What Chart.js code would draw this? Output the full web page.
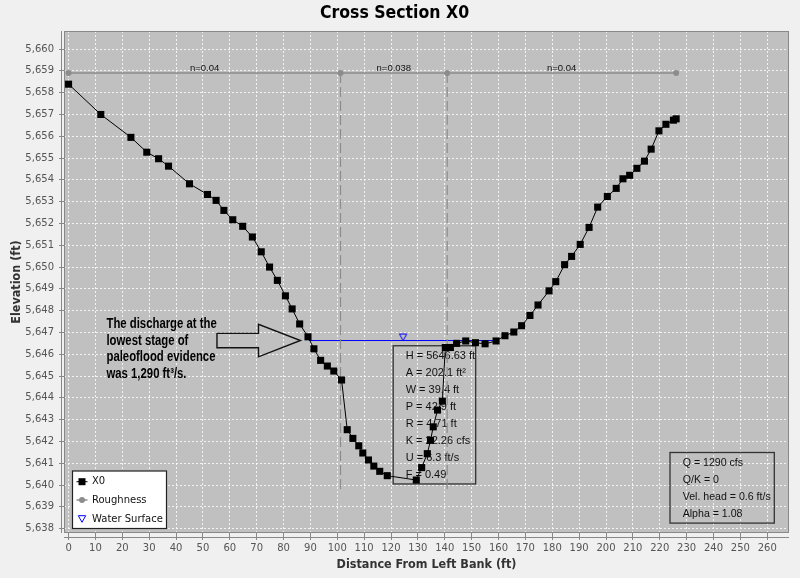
<!DOCTYPE html>
<html>
<head>
<meta charset="utf-8">
<title>Cross Section X0</title>
<script src="https://cdn.jsdelivr.net/npm/chart.js@4.4.1/dist/chart.umd.min.js"></script>
<style>
  html, body { margin: 0; padding: 0; background: #f0f0f0; }
  canvas { display: block; }
</style>
</head>
<body>
<canvas id="xs" width="800" height="578"></canvas>
<script>
// Ground survey: station from left bank (ft) and elevation (ft)
const stations = [
    0, 12.0, 23.2, 29.1, 33.5, 37.2, 45.0, 51.7, 54.9, 57.8,
    61.1, 64.8, 68.4, 71.7, 74.8, 77.7, 80.7, 83.2, 86.0, 89.1,
    91.3, 93.8, 96.3, 98.7, 101.6, 103.7, 105.8, 108.0, 109.5, 111.6,
    113.6, 115.8, 118.6, 129.4, 131.4, 133.5, 134.7, 135.7, 137.3, 139.1,
    140.2, 142.1, 144.4, 147.8, 151.4, 155.0, 159.1, 162.4, 165.7, 168.6,
    171.7, 174.7, 178.8, 181.3, 184.6, 187.2, 190.4, 193.7, 196.9, 200.5,
    203.8, 206.3, 208.8, 211.5, 214.3, 216.8, 219.7, 222.3, 225.1, 226.1
];
const elevations = [
    5658.39, 5657.00, 5655.95, 5655.27, 5654.97, 5654.63, 5653.82, 5653.33, 5653.06, 5652.60,
    5652.17, 5651.87, 5651.38, 5650.70, 5650.00, 5649.39, 5648.68, 5648.08, 5647.39, 5646.80,
    5646.25, 5645.72, 5645.46, 5645.23, 5644.82, 5642.54, 5642.14, 5641.80, 5641.47, 5641.15,
    5640.87, 5640.63, 5640.43, 5640.23, 5640.80, 5641.44, 5642.05, 5642.67, 5643.44, 5643.85,
    5646.31, 5646.31, 5646.50, 5646.61, 5646.53, 5646.48, 5646.61, 5646.85, 5647.02, 5647.31,
    5647.78, 5648.26, 5648.91, 5649.33, 5650.11, 5650.49, 5651.04, 5651.82, 5652.75, 5653.24,
    5653.61, 5654.05, 5654.21, 5654.53, 5654.86, 5655.41, 5656.25, 5656.55, 5656.74, 5656.80
];

// Roughness subdivisions
const roughStations = [0, 101.2, 140.9, 226.1];
const roughValues = ['0.04', '0.038', '0.04'];
const roughElev = 5658.9;
const dividerBottom = 5639.7;

// Water surface
const wsStations = [89.5, 159.3];
const wsMarkerStation = 124.5;
const wsElev = 5646.63;

// Axis ticks
const xTickValues = [0, 10, 20, 30, 40, 50, 60, 70, 80, 90, 100, 110, 120, 130,
    140, 150, 160, 170, 180, 190, 200, 210, 220, 230, 240, 250, 260];
const yTickValues = [5638, 5639, 5640, 5641, 5642, 5643, 5644, 5645, 5646, 5647, 5648,
    5649, 5650, 5651, 5652, 5653, 5654, 5655, 5656, 5657, 5658, 5659, 5660];

// Text blocks
const statsLines = ['H = 5646.63 ft', 'A = 202.1 ft\u00b2', 'W = 39.4 ft', 'P = 42.9 ft',
    'R = 4.71 ft', 'K = 22.26 cfs', 'U = 6.3 ft/s', 'F = 0.49'];
const summaryLines = ['Q = 1290 cfs', 'Q/K = 0', 'Vel. head = 0.6 ft/s', 'Alpha = 1.08'];
const noteLines = ['The discharge at the', 'lowest stage of', 'paleoflood evidence',
    'was 1,290 ft\u00b3/s.'];

const SANS = '"DejaVu Sans", sans-serif';
const COND = '"DejaVu Sans Condensed", "DejaVu Sans", sans-serif';
const ARIAL = '"Liberation Sans", Arial, sans-serif';
const GREY = '#8c8c8c';

// open down-pointing triangle whose tip sits on the point
function makeWsMarker() {
    const c = document.createElement('canvas');
    c.width = 10;
    c.height = 16;
    const g = c.getContext('2d');
    g.strokeStyle = '#0000ff';
    g.lineWidth = 1;
    g.beginPath();
    g.moveTo(1.3, 1.5);
    g.lineTo(8.7, 1.5);
    g.lineTo(5, 8);
    g.closePath();
    g.stroke();
    return c;
}

function drawBox(ctx, x, y, w, h, color, width, fill) {
    if (fill) {
        ctx.fillStyle = fill;
        ctx.fillRect(x, y, w, h);
    }
    ctx.strokeStyle = color;
    ctx.lineWidth = width;
    ctx.strokeRect(x, y, w, h);
}

const decorations = {
    id: 'decorations',
    beforeDraw(chart) {
        const { ctx, chartArea: a } = chart;
        ctx.save();
        ctx.fillStyle = '#f0f0f0';
        ctx.fillRect(0, 0, chart.width, chart.height);
        ctx.fillStyle = '#c0c0c0';
        ctx.fillRect(a.left, a.top, a.right - a.left, a.bottom - a.top);
        ctx.restore();
    },
    beforeDatasetsDraw(chart) {
        const { ctx, scales: { x, y } } = chart;
        ctx.save();

        // roughness labels above each subsection
        ctx.font = '9.5px ' + ARIAL;
        ctx.fillStyle = '#111';
        ctx.textAlign = 'center';
        ctx.textBaseline = 'bottom';
        const ry = y.getPixelForValue(roughElev);
        for (let i = 0; i < roughValues.length; i++) {
            const mid = (roughStations[i] + roughStations[i + 1]) / 2;
            ctx.fillText('n=' + roughValues[i], x.getPixelForValue(mid), ry + 0.5);
        }

        // hydraulic properties box (data line runs over it)
        const bx0 = x.getPixelForValue(120.8), bx1 = x.getPixelForValue(151.5);
        const by0 = y.getPixelForValue(5646.39), by1 = y.getPixelForValue(5640.05);
        drawBox(ctx, bx0, by0, bx1 - bx0, by1 - by0, '#333', 1.3);
        ctx.font = '11px ' + ARIAL;
        ctx.fillStyle = '#111';
        ctx.textAlign = 'left';
        ctx.textBaseline = 'middle';
        statsLines.forEach((t, i) => ctx.fillText(t, bx0 + 12.5, by0 + 10.5 + i * 17));

        // block arrow pointing at the lowest paleostage
        const tx = x.getPixelForValue(86.3), ty = y.getPixelForValue(wsElev);
        ctx.beginPath();
        ctx.moveTo(tx - 83.5, ty - 7.2);
        ctx.lineTo(tx - 42, ty - 7.2);
        ctx.lineTo(tx - 42, ty - 16.3);
        ctx.lineTo(tx, ty);
        ctx.lineTo(tx - 42, ty + 16.3);
        ctx.lineTo(tx - 42, ty + 7.2);
        ctx.lineTo(tx - 83.5, ty + 7.2);
        ctx.closePath();
        ctx.strokeStyle = '#111';
        ctx.lineWidth = 1.4;
        ctx.stroke();

        // note text, squeezed to match the narrow bold face of the original
        ctx.font = 'bold 14px ' + ARIAL;
        ctx.fillStyle = '#000';
        noteLines.forEach((t, i) => {
            ctx.save();
            ctx.translate(tx - 194, ty - 16.5 + i * 16.7);
            ctx.scale(0.81, 1);
            ctx.fillText(t, 0, 0);
            ctx.restore();
        });
        ctx.restore();
    },
    afterDraw(chart) {
        const { ctx, chartArea: a } = chart;
        ctx.save();

        // plot frame and offset axis lines
        ctx.strokeStyle = '#888';
        ctx.lineWidth = 1;
        ctx.strokeRect(a.left + 0.5, a.top + 0.5, a.right - a.left - 1, a.bottom - a.top - 1);
        ctx.beginPath();
        ctx.moveTo(a.left, a.bottom + 4.5);
        ctx.lineTo(a.right, a.bottom + 4.5);
        ctx.moveTo(a.left - 2.5, a.top);
        ctx.lineTo(a.left - 2.5, a.bottom);
        ctx.stroke();

        // legend
        const lx = a.left + 8.5, ly = a.bottom - 62;
        drawBox(ctx, lx, ly, 94, 57.5, '#222', 1.2, '#fff');
        ctx.font = '10px ' + SANS;
        ctx.textAlign = 'left';
        ctx.textBaseline = 'middle';
        const rows = [ly + 10.7, ly + 29, ly + 48];
        const ix = lx + 9.5;
        ctx.lineWidth = 1;
        ctx.strokeStyle = '#000';
        ctx.beginPath();
        ctx.moveTo(lx + 4, rows[0]);
        ctx.lineTo(lx + 15, rows[0]);
        ctx.stroke();
        ctx.fillStyle = '#000';
        ctx.fillRect(ix - 3.5, rows[0] - 3.5, 7, 7);
        ctx.strokeStyle = GREY;
        ctx.lineWidth = 1.5;
        ctx.beginPath();
        ctx.moveTo(lx + 4, rows[1]);
        ctx.lineTo(lx + 15, rows[1]);
        ctx.stroke();
        ctx.fillStyle = GREY;
        ctx.beginPath();
        ctx.arc(ix, rows[1], 3, 0, Math.PI * 2);
        ctx.fill();
        ctx.strokeStyle = '#0000ff';
        ctx.lineWidth = 1;
        ctx.beginPath();
        ctx.moveTo(ix - 3.7, rows[2] - 3.3);
        ctx.lineTo(ix + 3.7, rows[2] - 3.3);
        ctx.lineTo(ix, rows[2] + 3.3);
        ctx.closePath();
        ctx.stroke();
        ctx.fillStyle = '#111';
        ['X0', 'Roughness', 'Water Surface'].forEach((t, i) => ctx.fillText(t, lx + 19.5, rows[i]));

        // discharge summary box
        const sx = a.right - 119, sy = a.bottom - 80.5;
        drawBox(ctx, sx, sy, 104.3, 70.6, '#333', 1.3);
        ctx.font = '10.6px ' + ARIAL;
        ctx.fillStyle = '#111';
        summaryLines.forEach((t, i) => ctx.fillText(t, sx + 12.7, sy + 10.8 + i * 17));
        ctx.restore();
    }
};

const gridOpts = {
    color: 'rgba(255,255,255,0.8)',
    lineWidth: 1,
    tickColor: '#888',
    tickBorderDash: []
};

new Chart(document.getElementById('xs'), {
    type: 'scatter',
    data: {
        datasets: [{
            label: 'X0',
            data: stations.map((s, i) => ({ x: s, y: elevations[i] })),
            showLine: true,
            borderColor: '#000',
            borderWidth: 1,
            pointStyle: 'rect',
            pointRadius: 5,
            pointBackgroundColor: '#000',
            pointBorderWidth: 0
        }, {
            label: 'Roughness',
            data: roughStations.map(s => ({ x: s, y: roughElev })),
            showLine: true,
            borderColor: GREY,
            borderWidth: 1.5,
            pointStyle: 'circle',
            pointRadius: 3,
            pointBackgroundColor: GREY,
            pointBorderWidth: 0
        }, ...roughStations.slice(1, -1).map(s => ({
            label: 'divider',
            data: [{ x: s, y: roughElev }, { x: s, y: dividerBottom }],
            showLine: true,
            borderColor: GREY,
            borderWidth: 1.2,
            borderDash: [10, 4],
            pointRadius: 0
        })), {
            label: 'Water Surface line',
            data: wsStations.map(s => ({ x: s, y: wsElev })),
            showLine: true,
            borderColor: '#0000ff',
            borderWidth: 1,
            pointRadius: 0
        }, {
            label: 'Water Surface',
            data: [{ x: wsMarkerStation, y: wsElev }],
            pointStyle: makeWsMarker(),
            pointRadius: 5
        }]
    },
    options: {
        responsive: false,
        animation: false,
        events: [],
        layout: { padding: { left: 0, right: 11, top: 0, bottom: 0 } },
        plugins: {
            legend: { display: false },
            tooltip: { enabled: false },
            title: {
                display: true,
                text: 'Cross Section X0',
                color: '#000',
                font: { family: COND, size: 17.5, weight: 'bold' },
                padding: { top: 2.5, bottom: 7.5 }
            }
        },
        scales: {
            x: {
                type: 'linear',
                min: -1.7,
                max: 268.1,
                afterBuildTicks: s => { s.ticks = xTickValues.map(v => ({ value: v })); },
                afterFit: s => { s.height = 45; },
                ticks: {
                    font: { family: SANS, size: 10 },
                    color: '#555',
                    padding: 2.5,
                    maxRotation: 0,
                    autoSkip: false
                },
                grid: { ...gridOpts, tickLength: 7 },
                border: { display: false, dash: [2, 2] },
                title: {
                    display: true,
                    text: 'Distance From Left Bank (ft)',
                    color: '#333',
                    font: { family: COND, size: 12.5, weight: 'bold' },
                    padding: { top: 2, bottom: 5.5 }
                }
            },
            y: {
                type: 'linear',
                min: 5637.8,
                max: 5660.83,
                afterBuildTicks: s => { s.ticks = yTickValues.map(v => ({ value: v })); },
                afterFit: s => { s.width = 64; },
                ticks: {
                    font: { family: SANS, size: 10 },
                    color: '#555',
                    padding: 5,
                    autoSkip: false,
                    callback: v => v.toLocaleString('en-US')
                },
                grid: { ...gridOpts, tickLength: 5 },
                border: { display: false, dash: [2, 2] },
                title: {
                    display: true,
                    text: 'Elevation (ft)',
                    color: '#333',
                    font: { family: COND, size: 12.5, weight: 'bold' },
                    padding: { top: 9, bottom: 4 }
                }
            }
        }
    },
    plugins: [decorations]
});
</script>
</body>
</html>
